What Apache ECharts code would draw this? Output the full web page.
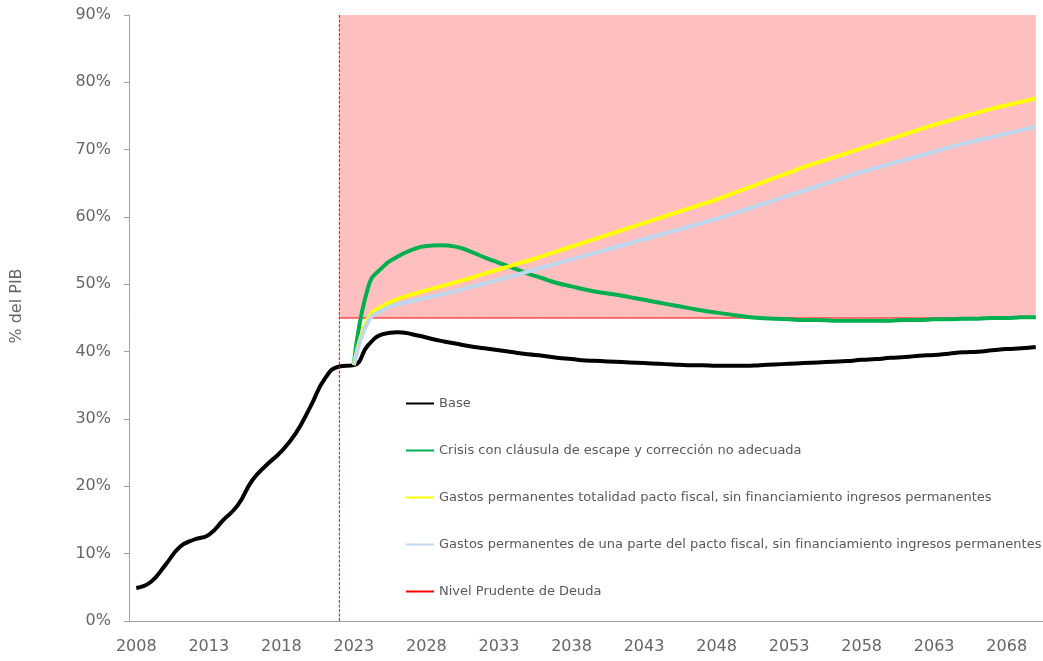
<!DOCTYPE html>
<html lang="es">
<head>
    <meta charset="UTF-8">
    <title>Deuda % del PIB</title>
    <style>
        html, body { margin: 0; height: 100%; background: #fff; }
        #container { width: 1043px; height: 661px; }
    </style>
</head>
<body>
    <div id="container"></div>
    <script src="https://cdn.jsdelivr.net/npm/echarts@6/dist/echarts.min.js"></script>
    <script>
        var years = [];
        for (var y = 2008; y <= 2070; y++) years.push(String(y));

        // 2008-2070
        var base = [4.9, 5.8, 8.3, 11.0, 12.1, 12.8, 15.0, 17.2, 20.9, 23.2, 25.2, 27.9, 31.8, 36.0, 37.8,
            38.0, 41.0, 42.6, 42.9, 42.6, 42.1, 41.6, 41.2, 40.8, 40.5, 40.2, 39.9, 39.6, 39.4, 39.1, 38.9, 38.7,
            38.6, 38.5, 38.4, 38.3, 38.2, 38.1, 38.0, 38.0, 37.9, 37.9, 37.9, 38.0, 38.1, 38.2, 38.3, 38.4,
            38.5, 38.6, 38.8, 38.9, 39.1, 39.2, 39.4, 39.5, 39.7, 39.9, 40.0, 40.2, 40.4, 40.5, 40.7];

        // 2023-2070 (sin datos antes)
        var crisis = [38.0, 49.7, 52.6, 54.1, 55.1, 55.7, 55.8, 55.6, 54.9, 54.0, 53.2, 52.4, 51.6, 50.9, 50.2,
            49.7, 49.2, 48.8, 48.5, 48.1, 47.7, 47.3, 46.9, 46.5, 46.1, 45.8, 45.5, 45.2, 45.0, 44.9, 44.8,
            44.7, 44.7, 44.6, 44.6, 44.6, 44.6, 44.6, 44.7, 44.7, 44.8, 44.8, 44.9, 44.9, 45.0, 45.0, 45.1, 45.1];

        var pactoTotal = [38.0, 45.0, 46.8, 47.8, 48.5, 49.1, 49.7, 50.3, 50.9, 51.6, 52.2, 52.9, 53.5, 54.2,
            54.9, 55.6, 56.3, 57.0, 57.7, 58.4, 59.1, 59.8, 60.5, 61.2, 61.9, 62.6, 63.4, 64.2, 65.0, 65.8,
            66.6, 67.4, 68.1, 68.8, 69.5, 70.2, 70.9, 71.6, 72.3, 73.0, 73.7, 74.3, 74.9, 75.5, 76.1, 76.6,
            77.1, 77.6];

        var pactoParte = [38.0, 44.5, 46.2, 47.0, 47.5, 48.0, 48.5, 49.0, 49.6, 50.1, 50.7, 51.3, 51.9, 52.5,
            53.1, 53.7, 54.3, 54.9, 55.5, 56.1, 56.7, 57.3, 57.9, 58.5, 59.1, 59.7, 60.4, 61.1, 61.8, 62.5,
            63.2, 63.9, 64.6, 65.3, 66.0, 66.7, 67.3, 67.9, 68.5, 69.1, 69.7, 70.3, 70.9, 71.4, 71.9, 72.4,
            72.9, 73.4];

        var nivelPrudente = 45;
        var inicioProy = '2022';
        var yMin = 0, yMax = 90, yStep = 10;

        function desde(startYear, values) {
            var out = [];
            var offset = years.indexOf(startYear);
            for (var i = 0; i < years.length; i++) {
                out.push(i < offset ? null : values[i - offset]);
            }
            return out;
        }

        var nivelData = years.map(function (yr) {
            return Number(yr) >= Number(inicioProy) ? nivelPrudente : null;
        });

        var names = [
            'Base',
            'Crisis con cláusula de escape y corrección no adecuada',
            'Gastos permanentes totalidad pacto fiscal, sin financiamiento ingresos permanentes',
            'Gastos permanentes de una parte del pacto fiscal, sin financiamiento ingresos permanentes',
            'Nivel Prudente de Deuda'
        ];

        var font = 'DejaVu Sans';
        var grey = '#666';
        var axisGrey = '#a0a0a0';

        var myChart = echarts.init(document.getElementById('container'));

        function lineSeries(name, data, color) {
            return {
                name: name,
                type: 'line',
                data: data,
                smooth: true,
                symbol: 'none',
                z: 3,
                lineStyle: { color: color, width: 4 },
                itemStyle: { color: color }
            };
        }

        var option = {
            animation: false,
            textStyle: { fontFamily: font },
            grid: { left: 129, right: -7, top: 15, bottom: 40 },
            legend: {
                orient: 'vertical',
                left: 400,
                top: 392,
                itemWidth: 28,
                itemHeight: 14,
                itemGap: 34,
                data: names,
                itemStyle: { opacity: 0 },
                textStyle: { fontFamily: font, fontSize: 13, color: '#595959' }
            },
            graphic: [{
                type: 'text',
                x: 17,
                y: 306,
                rotation: Math.PI / 2,
                style: {
                    text: '% del PIB',
                    font: '16px "DejaVu Sans"',
                    fill: grey,
                    align: 'center',
                    verticalAlign: 'middle'
                }
            }],
            xAxis: {
                type: 'category',
                data: years,
                boundaryGap: true,
                axisLine: { lineStyle: { color: axisGrey, width: 1 } },
                axisTick: { interval: 4, length: 5, lineStyle: { color: axisGrey } },
                axisLabel: { interval: 4, margin: 18, color: grey, fontSize: 16, fontFamily: font },
                splitLine: { show: false }
            },
            yAxis: {
                type: 'value',
                min: yMin,
                max: yMax,
                interval: yStep,
                axisLine: { show: true, lineStyle: { color: axisGrey, width: 1 } },
                axisTick: { show: true, length: 5, lineStyle: { color: axisGrey } },
                axisLabel: { formatter: '{value}%', margin: 18, color: grey, fontSize: 16, fontFamily: font },
                splitLine: { show: false }
            },
            series: [
                lineSeries(names[0], base, '#000000'),
                lineSeries(names[1], desde('2023', crisis), '#00B050'),
                lineSeries(names[2], desde('2023', pactoTotal), '#FFFF00'),
                lineSeries(names[3], desde('2023', pactoParte), '#BDD7EE'),
                {
                    name: names[4],
                    type: 'line',
                    data: nivelData,
                    symbol: 'none',
                    z: 2,
                    lineStyle: { color: '#FF0000', width: 1 },
                    itemStyle: { color: '#FF0000' },
                    markArea: {
                        silent: true,
                        itemStyle: { color: 'rgba(255,0,0,0.25)', borderWidth: 0 },
                        data: [[
                            { xAxis: inicioProy, yAxis: nivelPrudente },
                            { xAxis: years[years.length - 1], yAxis: yMax }
                        ]]
                    }
                },
                {
                    // linea vertical punteada: inicio de la proyeccion
                    name: 'inicio',
                    type: 'line',
                    data: [[inicioProy, yMin], [inicioProy, yMax]],
                    symbol: 'none',
                    silent: true,
                    z: 4,
                    lineStyle: { color: '#FF0000', width: 1, type: [3, 1.5] },
                    itemStyle: { color: '#FF0000' }
                }
            ]
        };

        myChart.setOption(option);
    </script>
</body>
</html>
